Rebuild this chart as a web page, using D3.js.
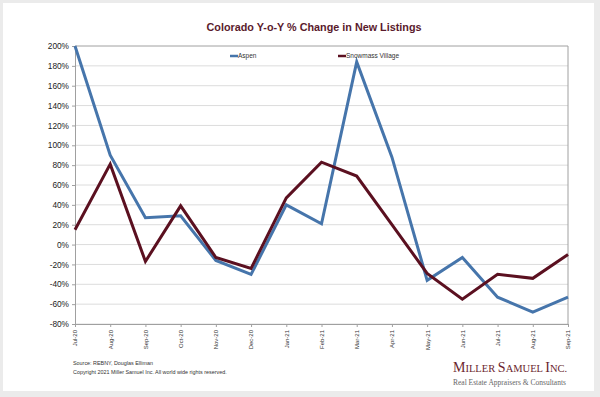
<!DOCTYPE html>
<html>
<head>
<meta charset="utf-8">
<script src="https://cdn.jsdelivr.net/npm/d3@7"></script>
<style>
  body { margin: 0; padding: 0; background: #ebebeb; }
  svg { display: block; }
</style>
</head>
<body>
<script>
'use strict';
// chart data
const months = ['Jul-20', 'Aug-20', 'Sep-20', 'Oct-20', 'Nov-20', 'Dec-20', 'Jan-21', 'Feb-21',
  'Mar-21', 'Apr-21', 'May-21', 'Jun-21', 'Jul-21', 'Aug-21', 'Sep-21'];
const aspen = [200, 90, 27, 29, -16, -30, 40, 21, 184, 88, -36, -13, -53, -68, -53];
const snowmass = [15, 81, -17, 39, -13, -24, 47, 83, 69, 20, -29, -55, -30, -34, -10];
const yTicks = [-80, -60, -40, -20, 0, 20, 40, 60, 80, 100, 120, 140, 160, 180, 200];

const W = 600, H = 397;
const FONT = 'Liberation Sans, Arial, sans-serif';
const BLUE = '#4675ab', MAROON = '#5b1020';

const svg = d3.select('body').append('svg')
  .attr('width', W).attr('height', H)
  .attr('viewBox', `0 0 ${W} ${H}`);

svg.append('rect').attr('width', W).attr('height', H).attr('fill', '#ebebeb');
svg.append('rect').attr('x', 3).attr('y', 3).attr('width', 591).attr('height', 388).attr('fill', '#fff');

const plot = { left: 75, right: 568, top: 46, bottom: 324 };

const x = d3.scalePoint().domain(months).range([plot.left, plot.right]);
const y = d3.scaleLinear().domain([-80, 200]).range([plot.bottom, plot.top]);

// title
svg.append('text')
  .attr('x', 314).attr('y', 31)
  .attr('text-anchor', 'middle')
  .attr('font-family', FONT).attr('font-size', 10.8).attr('font-weight', 700)
  .attr('fill', '#5a1a2c')
  .text('Colorado Y-o-Y % Change in New Listings');

// gridlines
svg.append('g').selectAll('line').data(yTicks).join('line')
  .attr('x1', plot.left).attr('x2', plot.right)
  .attr('y1', d => y(d)).attr('y2', d => y(d))
  .attr('stroke', d => d === 200 ? '#a0a0a0' : '#dcdcdc')
  .attr('stroke-width', 1);

// plot frame right side
svg.append('line')
  .attr('x1', plot.right).attr('x2', plot.right)
  .attr('y1', plot.top).attr('y2', plot.bottom)
  .attr('stroke', '#a0a0a0');

// y axis
const yAxis = svg.append('g')
  .attr('transform', `translate(${plot.left},0)`)
  .call(d3.axisLeft(y).tickValues(yTicks).tickSize(3).tickFormat(d => d + '%'));
yAxis.select('.domain').attr('stroke', '#a0a0a0');
yAxis.selectAll('.tick line').attr('stroke', '#a0a0a0');
yAxis.selectAll('text')
  .attr('font-family', FONT).attr('font-size', 8.3).attr('fill', '#222').attr('x', -6);

// x axis
const xAxis = svg.append('g')
  .attr('transform', `translate(0,${plot.bottom})`)
  .call(d3.axisBottom(x).tickSize(3).tickSizeOuter(0));
xAxis.select('.domain').attr('stroke', '#a0a0a0');
xAxis.selectAll('.tick line').attr('stroke', '#a0a0a0');
xAxis.selectAll('text')
  .attr('font-family', FONT).attr('font-size', 6).attr('fill', '#333')
  .attr('transform', 'rotate(-90)')
  .attr('text-anchor', 'end')
  .attr('x', -6).attr('y', 0).attr('dy', '0.32em');

// lines
const line = d3.line().x((d, i) => x(months[i])).y(d => y(d));
svg.append('path').datum(aspen)
  .attr('d', line).attr('fill', 'none')
  .attr('stroke', BLUE).attr('stroke-width', 3).attr('stroke-linejoin', 'miter');
svg.append('path').datum(snowmass)
  .attr('d', line).attr('fill', 'none')
  .attr('stroke', MAROON).attr('stroke-width', 3).attr('stroke-linejoin', 'miter');

// legend
const legend = [{ name: 'Aspen', color: BLUE, x: 230 }, { name: 'Snowmass Village', color: MAROON, x: 338 }];
const lg = svg.append('g').selectAll('g').data(legend).join('g')
  .attr('transform', d => `translate(${d.x},56)`);
lg.append('line').attr('x1', 0).attr('x2', 8).attr('y1', 0).attr('y2', 0)
  .attr('stroke', d => d.color).attr('stroke-width', 2.5);
lg.append('text').attr('x', 8).attr('y', 0).attr('dy', '0.33em')
  .attr('font-family', FONT).attr('font-size', 6.5).attr('fill', '#333')
  .text(d => d.name);

// footer
svg.append('text').attr('x', 73).attr('y', 365)
  .attr('font-family', FONT).attr('font-size', 5.4).attr('fill', '#333')
  .text('Source: REBNY, Douglas Elliman');
svg.append('text').attr('x', 73).attr('y', 374)
  .attr('font-family', FONT).attr('font-size', 5.4).attr('fill', '#333')
  .text('Copyright 2021 Miller Samuel Inc.  All world wide rights reserved.');

// logo
const logo = svg.append('text').attr('x', 453).attr('y', 372)
  .attr('font-family', 'Liberation Serif, Times New Roman, serif')
  .attr('fill', '#6b1f2e');
[['M', 14], ['ILLER ', 10.5], ['S', 14], ['AMUEL ', 10.5], ['I', 14], ['NC.', 10.5]].forEach(([t, s]) => {
  logo.append('tspan').attr('font-size', s).text(t);
});
svg.append('text').attr('x', 453).attr('y', 385)
  .attr('font-family', 'Liberation Serif, Times New Roman, serif')
  .attr('font-size', 7.5).attr('fill', '#666')
  .text('Real Estate Appraisers & Consultants');
</script>
</body>
</html>
